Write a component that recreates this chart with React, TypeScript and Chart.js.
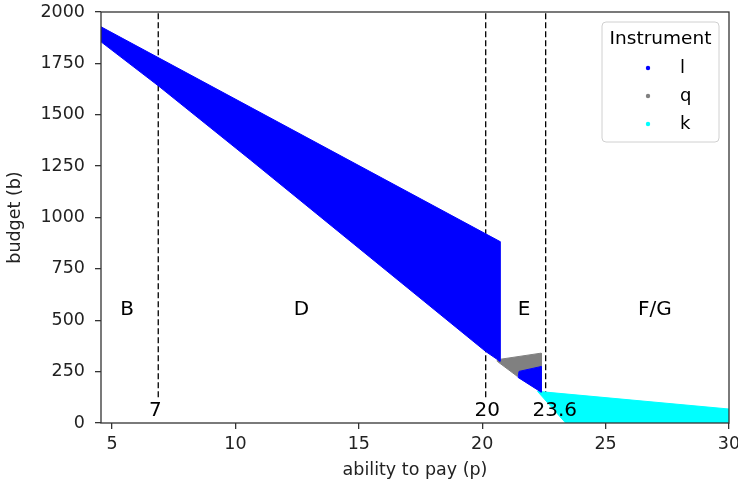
import React, { useEffect, useRef } from 'react';
import { Chart, registerables } from 'chart.js';
Chart.register(...registerables);

// Legend series
const seriesNames = ['l', 'q', 'k'];
const seriesColors = ['#0000ff', '#808080', '#00ffff'];

// Outlines of the scatter clouds (p = ability to pay, b = budget)
const lMainP = [4.55, 20.72, 20.72, 20.14, 10.6, 6.87, 4.55, 4.55];
const lMainB = [1928, 883, 300, 348, 1281, 1641, 1855, 1928];
const lSmallP = [21.49, 22.39, 22.39, 21.45, 21.49];
const lSmallB = [251, 275, 150, 222, 251];
const qP = [20.61, 22.39, 22.39, 21.49, 21.42, 20.61, 20.61];
const qB = [308, 340, 275, 251, 227, 300, 308];
const kP = [22.24, 30, 30, 23.38, 22.24];
const kB = [154, 68, 0, 0, 154];

// Threshold lines and labels
const thresholdP = [6.87, 20.14, 22.57];
const thresholdLineB = [125, 2000];
const thresholdLabels = ['7', '20', '23.6'];
const thresholdLabelP = [6.75, 20.2, 22.94];
const thresholdLabelB = 57;

// Region labels
const regionLabels = ['B', 'D', 'E', 'F/G'];
const regionLabelP = [5.61, 12.67, 21.69, 27.0];
const regionLabelB = 550;

// Axes
const xTicks = [5, 10, 15, 20, 25, 30];
const yTicks = [0, 250, 500, 750, 1000, 1250, 1500, 1750, 2000];
const xMin = 4.55;
const xMax = 30;
const yMin = 0;
const yMax = 2000;

const FONT = "'DejaVu Sans', sans-serif";

const pts = (xs: number[], ys: number[]) => xs.map((x, i) => ({ x, y: ys[i] }));

const polygon = (label: string, xs: number[], ys: number[], color: string) => ({
  label,
  data: pts(xs, ys),
  showLine: true,
  fill: 'shape',
  backgroundColor: color,
  borderColor: color,
  borderWidth: 1,
  pointRadius: 0,
  tension: 0,
});

export default function App() {
  const ref = useRef<HTMLCanvasElement | null>(null);

  useEffect(() => {
    if (!ref.current) return;

    const annotations = {
      id: 'annotations',
      afterDatasetsDraw(chart: any) {
        const { ctx, scales } = chart;
        const xs = scales.x;
        const ys = scales.y;
        ctx.save();
        ctx.fillStyle = '#000';
        ctx.font = `20px ${FONT}`;
        ctx.textAlign = 'center';
        ctx.textBaseline = 'middle';
        regionLabels.forEach((t, i) => {
          ctx.fillText(t, xs.getPixelForValue(regionLabelP[i]), ys.getPixelForValue(regionLabelB));
        });
        thresholdLabels.forEach((t, i) => {
          ctx.fillText(t, xs.getPixelForValue(thresholdLabelP[i]), ys.getPixelForValue(thresholdLabelB));
        });
        ctx.restore();
      },
      afterDraw(chart: any) {
        const { ctx, chartArea } = chart;
        ctx.save();
        ctx.strokeStyle = '#333';
        ctx.lineWidth = 1.3;
        ctx.strokeRect(chartArea.left, chartArea.top, chartArea.right - chartArea.left, chartArea.bottom - chartArea.top);

        // legend
        const bx = chartArea.right - 127;
        const by = chartArea.top + 10;
        const bw = 117;
        const bh = 120;
        ctx.beginPath();
        ctx.roundRect(bx, by, bw, bh, 4);
        ctx.fillStyle = 'rgba(255,255,255,0.8)';
        ctx.fill();
        ctx.strokeStyle = '#d0d0d0';
        ctx.lineWidth = 1;
        ctx.stroke();
        ctx.fillStyle = '#000';
        ctx.font = `18.5px ${FONT}`;
        ctx.textAlign = 'center';
        ctx.textBaseline = 'middle';
        ctx.fillText('Instrument', bx + bw / 2, by + 17);
        seriesNames.forEach((n, i) => {
          const yy = by + 46 + i * 28;
          ctx.beginPath();
          ctx.arc(bx + 46, yy, 2.2, 0, Math.PI * 2);
          ctx.fillStyle = seriesColors[i];
          ctx.fill();
          ctx.fillStyle = '#000';
          ctx.textAlign = 'left';
          ctx.font = `18px ${FONT}`;
          ctx.fillText(n, bx + 78, yy);
        });
        ctx.restore();
      },
    };

    const tickFont = { family: FONT, size: 17.5 };
    const plain = (v: any) => String(v);

    const chart = new Chart(ref.current, {
      type: 'scatter',
      data: {
        datasets: [
          polygon(seriesNames[0], lMainP, lMainB, seriesColors[0]),
          polygon(seriesNames[0] + '2', lSmallP, lSmallB, seriesColors[0]),
          polygon(seriesNames[1], qP, qB, seriesColors[1]),
          polygon(seriesNames[2], kP, kB, seriesColors[2]),
          ...thresholdP.map((p) => ({
            label: 'threshold ' + p,
            data: thresholdLineB.map((b) => ({ x: p, y: b })),
            showLine: true,
            fill: false,
            borderColor: '#000',
            borderWidth: 1.3,
            borderDash: [6, 3],
            pointRadius: 0,
          })),
        ] as any,
      },
      options: {
        animation: false,
        responsive: false,
        devicePixelRatio: 1,
        layout: { padding: { top: 12, right: 9, left: 0, bottom: 0 } },
        plugins: { legend: { display: false }, tooltip: { enabled: false } },
        scales: {
          x: {
            type: 'linear',
            min: xMin,
            max: xMax,
            afterBuildTicks: (s: any) => {
              s.ticks = xTicks.map((v) => ({ value: v }));
            },
            afterFit: (s: any) => {
              s.height = 64;
              s.paddingLeft = 0;
              s.paddingRight = 0;
            },
            ticks: { font: tickFont, color: '#222', padding: 5, maxRotation: 0, autoSkip: false, callback: plain },
            grid: { drawOnChartArea: false, drawTicks: true, tickLength: 6, color: '#333', lineWidth: 1.3 },
            border: { display: false },
            title: {
              display: true,
              text: 'ability to pay (p)',
              font: { family: FONT, size: 17.5 },
              color: '#222',
              padding: { top: 0, bottom: 6 },
            },
          },
          y: {
            type: 'linear',
            min: yMin,
            max: yMax,
            afterBuildTicks: (s: any) => {
              s.ticks = yTicks.map((v) => ({ value: v }));
            },
            afterFit: (s: any) => {
              s.width = 101;
              s.paddingTop = 0;
              s.paddingBottom = 0;
            },
            ticks: { font: tickFont, color: '#222', padding: 10, autoSkip: false, callback: plain },
            grid: { drawOnChartArea: false, drawTicks: true, tickLength: 6, color: '#333', lineWidth: 1.3 },
            border: { display: false },
            title: {
              display: true,
              text: 'budget (b)',
              font: { family: FONT, size: 17.5 },
              color: '#222',
              padding: { top: 5, bottom: 0 },
            },
          },
        },
      } as any,
      plugins: [annotations],
    });
    return () => chart.destroy();
  }, []);

  return (
    <div style={{ position: 'absolute', left: 0, top: 0, width: 738, height: 487, background: '#fff' }}>
      <canvas ref={ref} width={738} height={487} style={{ display: 'block' }} />
    </div>
  );
}
